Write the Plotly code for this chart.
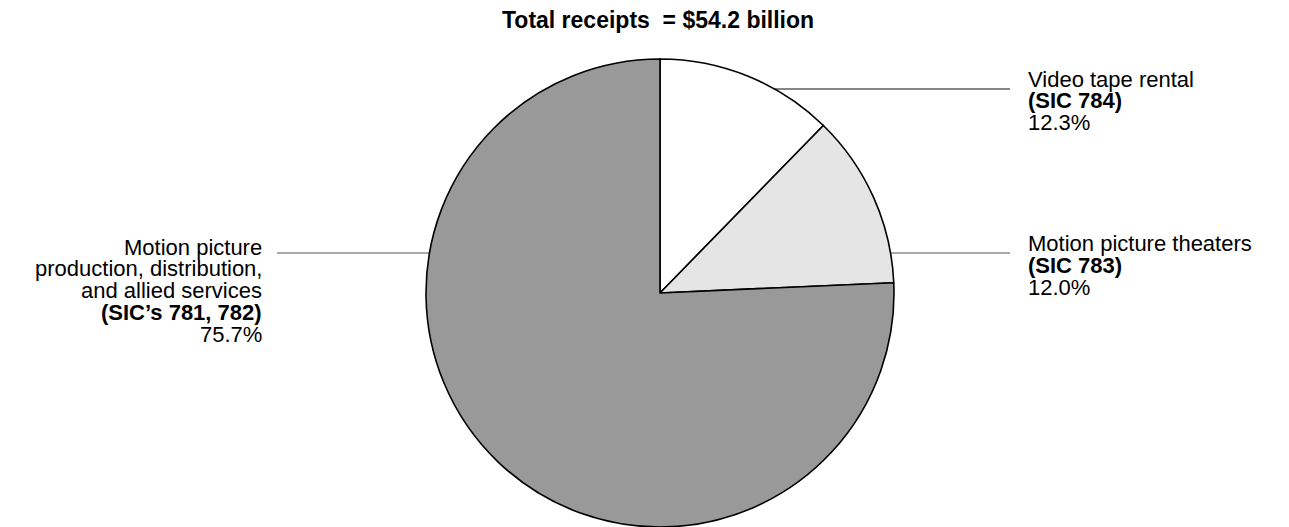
import plotly.graph_objects as go

# ---- data ----
categories = ["Video tape rental", "Motion picture theaters",
              "Motion picture production, distribution, and allied services"]
name_lines = [["Video tape rental"], ["Motion picture theaters"],
              ["Motion picture", "production, distribution,", "and allied services"]]
sic_codes = ["(SIC 784)", "(SIC 783)", "(SIC\u2019s 781, 782)"]
shares = [12.3, 12.0, 75.7]
title_text = "Total receipts\u00a0\u00a0= $54.2 billion"

# ---- style / layout ----
OFF = 8                      # page body margin
W, H = 1289 - OFF, 527 - OFF  # figure size
slice_colors = ["#ffffff", "#e5e5e5", "#999999"]
FONT = "Liberation Sans, Arial, sans-serif"
FS = 22
FS_TITLE = 23
LINE_GAP = 21.8

# label anchor (x px, first baseline px, anchor side) in window pixels
label_pos = [(1026, 86, "left"), (1026, 251, "left"), (264, 254, "right")]
# leader lines (x0, x1, y) in window px; drawn below the pie so the pie hides the inner part
leaders = [(660, 1010, 89, "#111111"), (660, 1010, 253, "#555555"), (277, 660, 253, "#555555")]


def px(x):
    return (x - OFF) / W


def py(y):
    return 1 - (y - OFF) / H


fig = go.Figure()
fig.add_trace(go.Pie(
    labels=categories, values=shares, sort=False, direction="clockwise", rotation=0,
    marker=dict(colors=slice_colors, line=dict(color="#000000", width=1.6)),
    textinfo="none", hoverinfo="label+percent", showlegend=False,
    domain=dict(x=[px(660 - 234), px(660 + 234)], y=[0, py(59)]),
))

shapes = []
for x0, x1, y, c in leaders:
    shapes.append(dict(type="line", xref="paper", yref="paper", x0=px(x0), x1=px(x1),
                       y0=py(y), y1=py(y), line=dict(color=c, width=1.1), layer="below"))

annotations = [dict(text="<b>" + title_text + "</b>", x=px(658), y=py(20), xref="paper", yref="paper",
                    xanchor="center", yanchor="middle", showarrow=False,
                    font=dict(family=FONT, size=FS_TITLE, color="#000000"))]

for i in range(len(categories)):
    lines = list(name_lines[i]) + ["<b>" + sic_codes[i] + "</b>", f"{shares[i]:.1f}%"]
    x, b0, side = label_pos[i]
    for j, t in enumerate(lines):
        base = b0 + j * LINE_GAP
        annotations.append(dict(text=t, x=px(x), y=py(base - 7), xref="paper", yref="paper",
                                xanchor=side, yanchor="middle", showarrow=False,
                                font=dict(family=FONT, size=FS, color="#000000")))

fig.update_layout(width=W, height=H, margin=dict(l=0, r=0, t=0, b=0),
                  paper_bgcolor="#ffffff", plot_bgcolor="#ffffff",
                  shapes=shapes, annotations=annotations)

fig.write_html("out.html")
